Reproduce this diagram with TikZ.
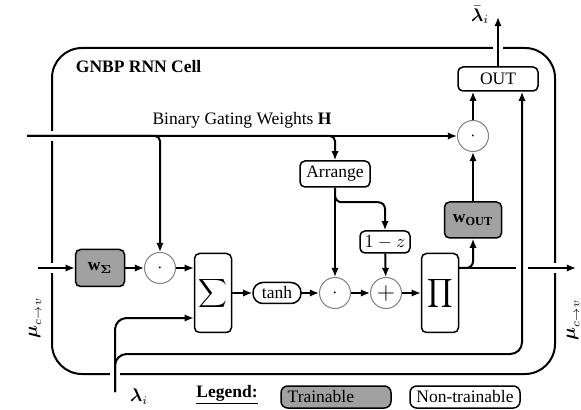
\documentclass[tikz,border=0pt]{standalone}
\usepackage{amsmath}
\usepackage{fontspec}
\setmainfont{Liberation Serif}
\usetikzlibrary{arrows.meta,calc}
\begin{document}
\begin{tikzpicture}[x=0.6pt,y=-0.6pt,
  every node/.style={font=\fontsize{10.5}{12}\selectfont},
  conn/.style={line width=1.2pt,-{Latex[length=5.5pt,width=4.5pt]}},
  wire/.style={line width=1.2pt},
  box/.style={draw,line width=0.9pt,rounded corners=3pt,inner sep=0pt,fill=white},
  trainbox/.style={box,fill=black!37},
  opc/.style={draw=black!50,line width=0.6pt,circle,minimum size=18.6pt,inner sep=0pt,fill=white},
  bigop/.style={box,minimum width=22.2pt,minimum height=47.4pt},
]
\useasboundingbox (0,0) rectangle (581,410);
% cell border
\draw[wire, rounded corners=18pt] (52,48) rectangle (555,374);
\node[font=\bfseries\fontsize{10.5}{12}\selectfont, anchor=west] (title) at (70,67) {GNBP RNN Cell};
% border gaps
\foreach \x/\y in {52/136,52/268,115/374,498/48,555/268}
  \fill[white] (\x-5,\y-5) rectangle (\x+5,\y+5);
% nodes
\node[trainbox, minimum width=29.4pt, minimum height=22.2pt] (ws) at (100,268) {$\mathbf{w}_{\boldsymbol{\Sigma}}$};
\node[opc] (od1) at (160,268) {$\cdot$};
\node[bigop] (sum) at (213,293) {\large$\displaystyle\sum$};
\node[box, rounded corners=6pt, minimum width=28.8pt, minimum height=12.6pt] (tanh) at (277,293) {$\tanh$};
\node[opc] (od2) at (335,293) {$\cdot$};
\node[opc] (plus) at (386,293) {\Large$+$};
\node[bigop] (prod) at (440,293) {\large$\displaystyle\prod$};
\node[box, minimum width=42pt, minimum height=15.6pt] (arr) at (335,174) {Arrange};
\node[box, minimum width=30pt, minimum height=13.2pt] (omz) at (385,242) {$1-z$};
\node[trainbox, minimum width=34.2pt, minimum height=21.6pt] (wout) at (473,220) {$\mathbf{w}_{\textbf{OUT}}$};
\node[opc] (od3) at (473,136) {$\cdot$};
\node[box, minimum width=48pt, minimum height=14.4pt] (out) at (498,79) {OUT};
% free ends
\coordinate (gin) at (27,136);
\coordinate (muin) at (38,268);
\coordinate (muout) at (576,268);
\coordinate (lin) at (115,392);
\coordinate (lbar) at (498,17);
\coordinate (lx) at (522,354);
% connectors
\draw[conn] (gin) -- (od3);
\draw[conn, rounded corners=3pt] (gin) -| (od1);
\draw[conn, rounded corners=3pt] (gin) -| (arr);
\draw[conn] (muin) -- (ws);
\draw[conn] (ws) -- (od1);
\draw[conn] (od1) -- (od1 -| sum.west);
\draw[conn] (sum) -- (tanh);
\draw[conn] (tanh) -- (od2);
\draw[conn] (od2) -- (plus);
\draw[conn] (plus) -- (prod);
\draw[conn] (arr) -- (od2);
\draw[conn, rounded corners=4pt] (arr.south) |- ($(omz.north)+(0,-28)$) -- (omz.north);
\draw[conn] (omz) -- (plus);
\draw[conn] (prod.east |- muout) -- (muout);
\draw[conn, rounded corners=4pt] (prod.east |- muout) -| (wout);
\draw[conn] (wout) -- (od3);
\draw[conn] (od3) -- (od3 |- out.south);
\draw[conn] (out) -- (lbar);
\fill[white] (516,264) rectangle (528,272);
\draw[conn, rounded corners=7pt] (lin) |- (lx) -- (lx |- out.south);
\draw[conn, rounded corners=7pt] (lin) |- ($(sum.west)+(0,25)$);
% labels
\node[anchor=east, inner xsep=1pt] (lbarl) at (491,15) {$\bar{\boldsymbol{\lambda}}_i$};
\node (lil) at (139,397) {$\boldsymbol{\lambda}_i$};
\node[rotate=90] (mul) at (35,318) {$\boldsymbol{\mu}_{c\to v}$};
\node[rotate=90] (mur) at (573,320) {$\boldsymbol{\mu}_{c\to v}$};
\node (gl) at (242,120) {Binary Gating Weights $\mathbf{H}$};
\node[font=\bfseries\fontsize{10.5}{12}\selectfont] (leg) at (227,395) {\underline{Legend:}};
\node[trainbox, rounded corners=4pt, minimum height=13.2pt, text width=58pt, align=left, inner xsep=4pt] (lt) at (336,397) {Trainable};
\node[box, rounded corners=4pt, minimum width=66pt, minimum height=13.2pt] (ln) at (465,397) {Non-trainable};
\end{tikzpicture}
\end{document}
